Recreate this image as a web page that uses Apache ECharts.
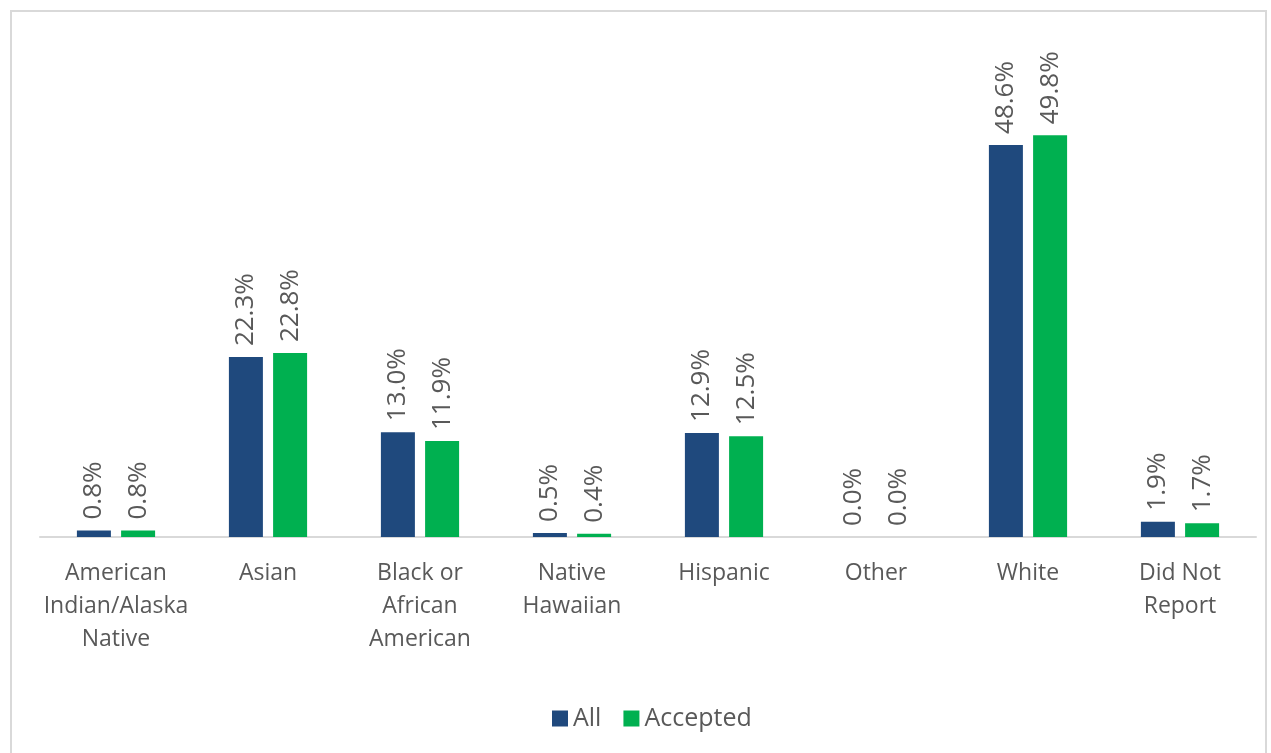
<!DOCTYPE html>
<html><head><meta charset="utf-8">
<script src="https://cdn.jsdelivr.net/npm/echarts@6/dist/echarts.min.js"></script>
<style>
html,body{margin:0;padding:0;background:#fff;}
#frame{position:absolute;left:10px;top:10px;width:1257px;height:800px;border:2px solid #d9d9d9;box-sizing:border-box;}
#chart{position:absolute;left:0;top:0;width:1271px;height:753px;}
</style></head>
<body>
<div id="frame"></div>
<div id="chart"></div>
<script>
const categories = ['American\nIndian/Alaska\nNative','Asian','Black or\nAfrican\nAmerican','Native\nHawaiian','Hispanic','Other','White','Did Not\nReport'];
const allValues = [0.8, 22.3, 13.0, 0.5, 12.9, 0.0, 48.6, 1.9];
const acceptedValues = [0.8, 22.8, 11.9, 0.4, 12.5, 0.0, 49.8, 1.7];
const seriesNames = ['All', 'Accepted'];

const font = '"Open Sans", sans-serif';
const labelCfg = {
  show: true, position: 'top', rotate: 90, align: 'left', verticalAlign: 'middle',
  distance: 11, fontSize: 26, color: '#595959', fontFamily: font,
  formatter: p => p.value.toFixed(1) + '%'
};
const chart = echarts.init(document.getElementById('chart'));
chart.setOption({
  animation: false,
  grid: {left: 40, right: 15, top: 53, bottom: 216},
  legend: {
    data: seriesNames, bottom: 17, left: 547, icon: 'rect', itemWidth: 16, itemHeight: 16, itemGap: 22, itemTextGap: 10,
    textStyle: {fontSize: 25, color: '#595959', fontFamily: font}
  },
  xAxis: {
    type: 'category', data: categories,
    axisLine: {lineStyle: {color: '#d9d9d9', width: 2}},
    axisTick: {show: false},
    axisLabel: {fontSize: 23, color: '#595959', fontFamily: font, lineHeight: 33, margin: 20, interval: 0}
  },
  yAxis: {type: 'value', min: 0, max: 60, show: false, splitLine: {show: false}},
  series: [
    {name: seriesNames[0], type: 'bar', data: allValues, barWidth: 34, barGap: '30%',
     itemStyle: {color: '#1f497d'}, label: labelCfg},
    {name: seriesNames[1], type: 'bar', data: acceptedValues, barWidth: 34, barGap: '30%',
     itemStyle: {color: '#00b050'}, label: labelCfg}
  ]
});
</script>
</body></html>
